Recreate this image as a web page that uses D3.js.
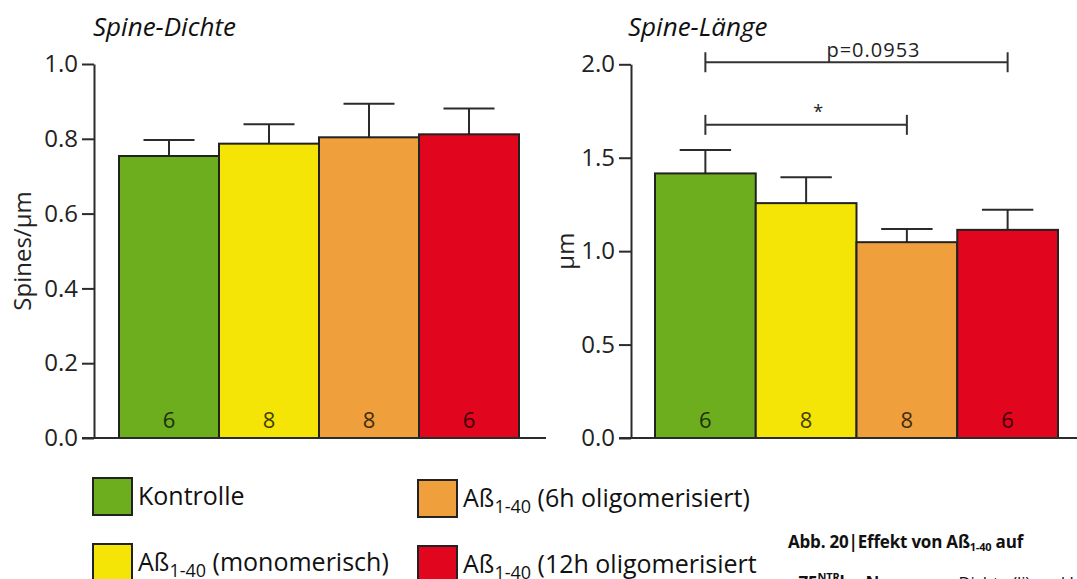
<!DOCTYPE html>
<html>
<head>
<meta charset="utf-8">
<script src="https://cdn.jsdelivr.net/npm/d3@7"></script>
<style>
  html, body { margin: 0; padding: 0; background: #fff; }
  svg { display: block; }
  text { font-family: "Open Sans", "Noto Sans", sans-serif; }
</style>
</head>
<body>
<svg id="chart" width="1077" height="579"></svg>
<script>
// ---------- data ----------
const categories = ["Kontrolle", "Aß1-40 (monomerisch)", "Aß1-40 (6h oligomerisiert)", "Aß1-40 (12h oligomerisiert"];
const colors = ["#6DAE1F", "#F4E506", "#EFA03D", "#E1061D"];
const nCounts = [6, 8, 8, 6];

const densityValues = [0.754, 0.787, 0.804, 0.812];
const densityErrors = [0.043, 0.052, 0.090, 0.069];
const densityTicks = [0.0, 0.2, 0.4, 0.6, 0.8, 1.0];

const lengthValues = [1.416, 1.257, 1.048, 1.114];
const lengthErrors = [0.125, 0.139, 0.070, 0.107];
const lengthTicks = [0.0, 0.5, 1.0, 1.5, 2.0];

const lengthComparisons = [
  { from: 0, to: 2, level: 1.676, label: "*" },
  { from: 0, to: 3, level: 2.011, label: "p=0.0953" }
];

// ---------- drawing ----------
const svg = d3.select("#chart");
svg.append("rect").attr("width", 1077).attr("height", 579).attr("fill", "#fff");
const ink = "#2b2b2b";

function panel(opts) {
  const g = svg.append("g");
  const x = d3.scaleBand().domain(categories).range(opts.xRange).paddingInner(0).paddingOuter(0);
  const y = d3.scaleLinear().domain(opts.domain).range(opts.yRange);

  // title
  g.append("text")
    .attr("x", opts.titleX).attr("y", 36)
    .attr("font-size", 26).attr("font-style", "italic").attr("fill", "#111")
    .text(opts.title);

  // y axis title
  g.append("text")
    .attr("transform", `translate(${opts.yTitleX},${(opts.yRange[0] + opts.yRange[1]) / 2}) rotate(-90)`)
    .attr("text-anchor", "middle").attr("font-size", 24).attr("fill", "#222")
    .text(opts.yTitle);

  const data = categories.map((c, i) => ({ c, i, v: opts.values[i], e: opts.errors[i] }));

  // error bars
  const eg = g.append("g").attr("stroke", ink).attr("stroke-width", 2).attr("fill", "none");
  data.forEach(d => {
    const cx = x(d.c) + x.bandwidth() / 2;
    const cw = x.bandwidth() * 0.255;
    eg.append("line").attr("x1", cx).attr("x2", cx).attr("y1", y(d.v)).attr("y2", y(d.v + d.e));
    eg.append("line").attr("x1", cx - cw).attr("x2", cx + cw).attr("y1", y(d.v + d.e)).attr("y2", y(d.v + d.e));
  });

  // bars
  g.append("g").selectAll("rect").data(data).join("rect")
    .attr("x", d => x(d.c))
    .attr("y", d => y(d.v))
    .attr("width", x.bandwidth())
    .attr("height", d => y(0) - y(d.v))
    .attr("fill", d => colors[d.i])
    .attr("stroke", "#222").attr("stroke-width", 2);

  // n counts
  g.append("g").selectAll("text").data(data).join("text")
    .attr("x", d => x(d.c) + x.bandwidth() / 2)
    .attr("y", y(0) - 10)
    .attr("text-anchor", "middle")
    .attr("font-size", 22)
    .attr("fill", d => d3.color(colors[d.i]).darker(3.6))
    .text(d => nCounts[d.i]);

  // y axis
  const axis = d3.axisLeft(y).tickValues(opts.ticks).tickSize(12).tickSizeOuter(0)
    .tickPadding(4).tickFormat(d3.format(".1f"));
  const ag = g.append("g").attr("transform", `translate(${opts.axisX},0)`).call(axis);
  ag.select(".domain").attr("stroke", ink).attr("stroke-width", 2);
  ag.selectAll(".tick line").attr("stroke", ink).attr("stroke-width", 2);
  ag.selectAll(".tick text").attr("font-size", 24).attr("fill", "#222")
    .attr("font-family", "\"Open Sans\", sans-serif");

  // baseline (x axis)
  g.append("line")
    .attr("x1", opts.axisX - 12).attr("x2", opts.baseEnd)
    .attr("y1", y(0)).attr("y2", y(0))
    .attr("stroke", ink).attr("stroke-width", 2);

  // comparisons
  (opts.comparisons || []).forEach(cmp => {
    const x1 = x(categories[cmp.from]) + x.bandwidth() / 2;
    const x2 = x(categories[cmp.to]) + x.bandwidth() / 2;
    const yy = y(cmp.level);
    const cg = g.append("g").attr("stroke", "#333").attr("stroke-width", 2);
    cg.append("line").attr("x1", x1).attr("x2", x2).attr("y1", yy).attr("y2", yy);
    cg.append("line").attr("x1", x1).attr("x2", x1).attr("y1", yy - 10).attr("y2", yy + 10);
    cg.append("line").attr("x1", x2).attr("x2", x2).attr("y1", yy - 10).attr("y2", yy + 10);
    const isStar = cmp.label === "*";
    g.append("text")
      .attr("x", (x1 + x2) / 2 + (isStar ? 12 : 17))
      .attr("y", yy - (isStar ? 7 : 5))
      .attr("text-anchor", "middle")
      .attr("font-size", isStar ? 18 : 20)
      .attr("letter-spacing", isStar ? 0 : 1)
      .attr("fill", "#222")
      .text(cmp.label);
  });
}

panel({
  title: "Spine-Dichte", titleX: 93,
  yTitle: "Spines/µm", yTitleX: 31,
  values: densityValues, errors: densityErrors, ticks: densityTicks,
  domain: [0, 1], yRange: [438, 64], xRange: [119, 519],
  axisX: 94, baseEnd: 546
});

panel({
  title: "Spine-Länge", titleX: 628,
  yTitle: "µm", yTitleX: 574,
  values: lengthValues, errors: lengthErrors, ticks: lengthTicks,
  domain: [0, 2], yRange: [438, 64.3], xRange: [655, 1058],
  axisX: 631, baseEnd: 1077,
  comparisons: lengthComparisons
});

// ---------- legend ----------
const legendPos = [
  { x: 93, y: 478 }, { x: 93, y: 544 }, { x: 418, y: 480 }, { x: 418, y: 546 }
];
const lg = svg.append("g");
categories.forEach((c, i) => {
  const p = legendPos[i];
  lg.append("rect").attr("x", p.x).attr("y", p.y).attr("width", 39).attr("height", 37)
    .attr("fill", colors[i]).attr("stroke", "#222").attr("stroke-width", 2);
  const t = lg.append("text").attr("x", p.x + 45).attr("y", p.y + 27)
    .attr("font-size", 25).attr("fill", "#111");
  if (c.includes("1-40")) {
    const [head, tail] = c.split("1-40");
    t.append("tspan").text(head);
    t.append("tspan").attr("font-size", 18).attr("dy", 6).text("1-40");
    t.append("tspan").attr("dy", -6).text(tail);
  } else {
    t.text(c);
  }
});

// ---------- caption ----------
const cap = svg.append("g").attr("fill", "#111");
const c1 = cap.append("text").attr("x", 788).attr("y", 548).attr("font-size", 17).attr("font-weight", "bold")
  .attr("letter-spacing", -0.2);
c1.append("tspan").text("Abb. 20|Effekt von Aß");
c1.append("tspan").attr("font-size", 11).attr("dy", 3).text("1-40");
c1.append("tspan").attr("dy", -3).text(" auf");
const c2 = cap.append("text").attr("x", 788).attr("y", 589).attr("font-size", 17).attr("letter-spacing", -0.2);
c2.append("tspan").attr("font-weight", "bold").text("p75");
c2.append("tspan").attr("font-weight", "bold").attr("font-size", 11).attr("dy", -8).text("NTR");
c2.append("tspan").attr("font-weight", "bold").attr("dy", 8).text("ko-Neuronen:");
c2.append("tspan").text(" Dichte (li) und Länge");
</script>
</body>
</html>
